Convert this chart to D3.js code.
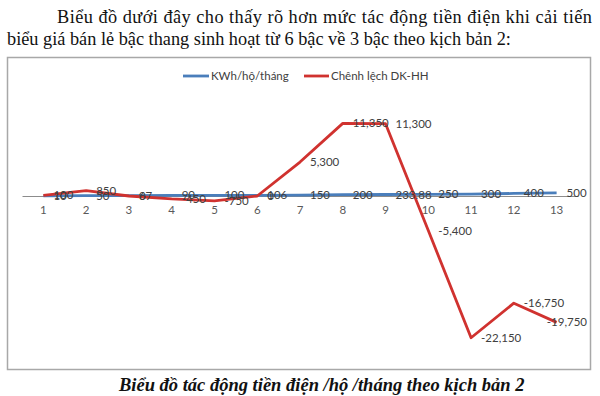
<!DOCTYPE html>
<html><head><meta charset="utf-8">
<script src="https://cdn.jsdelivr.net/npm/d3@7"></script>
<style>
html,body{margin:0;padding:0;background:#fff;}
svg{display:block;}
</style></head>
<body>
<svg id="c" width="600" height="396"></svg>
<script>
const categories = [1,2,3,4,5,6,7,8,9,10,11,12,13];
const kwhValues = [10,50,67,90,100,106,150,200,233.88,250,300,400,500];
const kwhLabels = ["10","50","67","90","100","106","150","200","233.88","250","300","400","500"];
const diffValues = [100,850,0,-450,-750,0,5300,11350,11300,-5400,-22150,-16750,-19750];
const diffLabels = ["100","850","0","-450","-750","0","5,300","11,350","11,300","-5,400","-22,150","-16,750","-19,750"];
const seriesNames = ["KWh/hộ/tháng","Chênh lệch DK-HH"];
const headingLines = ["Biểu đồ dưới đây cho thấy rõ hơn mức tác động tiền điện khi cải tiến",
  "biểu giá bán lẻ bậc thang sinh hoạt từ 6 bậc về 3 bậc theo kịch bản 2:"];
const caption = "Biểu đồ tác động tiền điện /hộ /tháng theo kịch bản 2";

const svg = d3.select("#c");
const serif = "'Liberation Serif','Times New Roman',serif";
const sans = "Lato,'Open Sans',sans-serif";
const blue = "#4a7ebb", red = "#d0322f";

// heading
svg.append("text").attr("x",57).attr("y",23).attr("font-family",serif).attr("font-size",18.3)
  .attr("fill","#111").attr("textLength",535).attr("lengthAdjust","spacing").text(headingLines[0]);
svg.append("text").attr("x",7).attr("y",45).attr("font-family",serif).attr("font-size",18.3)
  .attr("fill","#111").text(headingLines[1]);

// chart box
svg.append("rect").attr("x",7.5).attr("y",57.5).attr("width",583).attr("height",312)
  .attr("fill","#fff").attr("stroke","#a8a8a8").attr("stroke-width",1.5);

const x = d3.scaleBand().domain(categories).range([22,578]);
const y = d3.scaleLinear().domain([-25000,15000]).range([356,100]);
const cx = d => x(d) + x.bandwidth()/2;

// axis
const axis = d3.axisBottom(x).tickSize(0).tickPadding(10);
const ag = svg.append("g").attr("transform",`translate(0,${y(0)})`).call(axis);
ag.select(".domain").attr("stroke","#8c8c8c").attr("stroke-width",1);
ag.selectAll("text").attr("font-family",sans).attr("font-size",11.5).attr("fill","#595959");

const line = d3.line().x((d,i)=>cx(categories[i])).y(d=>y(d));
svg.append("path").datum(kwhValues).attr("d",line).attr("fill","none")
  .attr("stroke",blue).attr("stroke-width",2.8).attr("stroke-linejoin","round");
svg.append("path").datum(diffValues).attr("d",line).attr("fill","none")
  .attr("stroke",red).attr("stroke-width",2.8).attr("stroke-linejoin","round");

function labels(vals, labs){
  const g = svg.append("g");
  vals.forEach((v,i)=>{
    const t = g.append("text").attr("x",cx(categories[i])+10).attr("y",y(v))
      .attr("dy","0.35em").attr("font-family",sans).attr("font-size",11.5).attr("fill","#404040").text(labs[i]);
    const w = t.node().getComputedTextLength();
    const px = cx(categories[i])+10;
    if (px + w > 587) t.attr("x", 587 - w);
  });
}
labels(kwhValues,kwhLabels);
labels(diffValues,diffLabels);

// legend
const lg = svg.append("g").attr("font-family",sans).attr("font-size",11.5).attr("fill","#404040");
lg.append("line").attr("x1",183).attr("x2",209).attr("y1",76).attr("y2",76).attr("stroke",blue).attr("stroke-width",2.8);
lg.append("text").attr("x",211).attr("y",76).attr("dy","0.35em").text(seriesNames[0]);
lg.append("line").attr("x1",304).attr("x2",329).attr("y1",76).attr("y2",76).attr("stroke",red).attr("stroke-width",2.8);
lg.append("text").attr("x",331).attr("y",76).attr("dy","0.35em").text(seriesNames[1]);

// caption
svg.append("text").attr("x",119).attr("y",391).attr("font-family",serif).attr("font-size",18.5)
  .attr("font-style","italic").attr("font-weight","bold").attr("fill","#111").text(caption);
</script>
</body></html>
